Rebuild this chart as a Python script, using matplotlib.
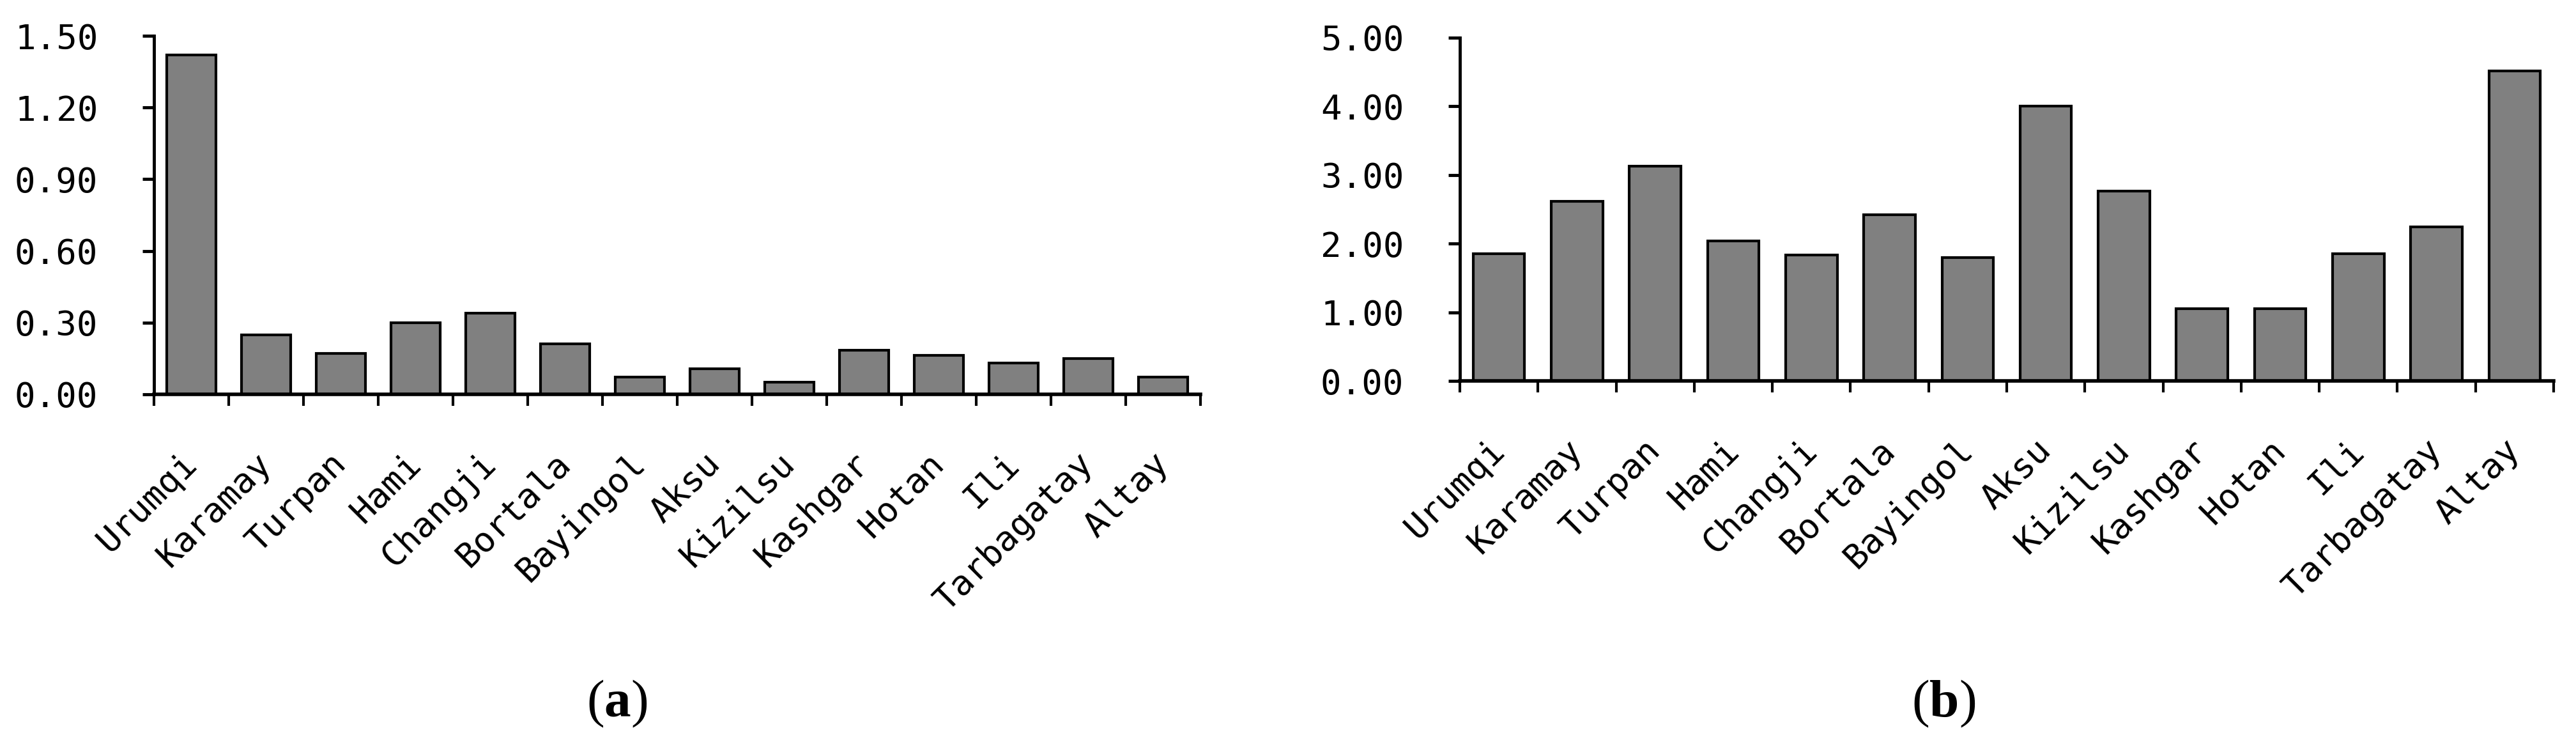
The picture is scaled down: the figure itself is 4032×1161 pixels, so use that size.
import numpy as np
import matplotlib.pyplot as plt
from matplotlib.ticker import FormatStrFormatter, FixedLocator

regions = ["Urumqi", "Karamay", "Turpan", "Hami", "Changji", "Bortala", "Bayingol",
           "Aksu", "Kizilsu", "Kashgar", "Hotan", "Ili", "Tarbagatay", "Altay"]
values_a = [1.42, 0.25, 0.17, 0.30, 0.34, 0.21, 0.073, 0.107, 0.052, 0.184, 0.163, 0.13, 0.151, 0.073]
values_b = [1.85, 2.62, 3.13, 2.04, 1.83, 2.42, 1.80, 4.00, 2.77, 1.05, 1.05, 1.85, 2.24, 4.52]

plt.rcParams["font.family"] = "DejaVu Sans Mono"
plt.rcParams["mathtext.fontset"] = "custom"
plt.rcParams["mathtext.rm"] = "Liberation Serif"
plt.rcParams["mathtext.bf"] = "Liberation Serif:bold"

fig = plt.figure(figsize=(40.32, 11.61), dpi=100)
ax_a = fig.add_axes([241 / 4032, 544 / 1161, 1638 / 4032, 561 / 1161])
ax_b = fig.add_axes([2285 / 4032, 565 / 1161, 1712 / 4032, 537 / 1161])


def draw_panel(ax, vals, ymax, step):
    x = np.arange(len(regions))
    ax.bar(x, vals, width=0.66, color="#808080", edgecolor="black", linewidth=3, zorder=2)
    ax.set_xlim(-0.5, len(regions) - 0.5)
    ax.set_ylim(0, ymax)
    ax.set_yticks(np.arange(0, ymax + step / 2, step))
    ax.yaxis.set_major_formatter(FormatStrFormatter("%.2f"))
    ax.set_xticks(x)
    ax.set_xticklabels(regions, rotation=45, ha="right", va="center", rotation_mode="anchor")
    # category boundaries get the small downward ticks
    ax.xaxis.set_minor_locator(FixedLocator(np.arange(-0.5, len(regions), 1.0)))
    ax.tick_params(axis="x", which="major", length=0, pad=72, labelsize=39)
    ax.tick_params(axis="x", which="minor", length=13, width=3, direction="out")
    ax.tick_params(axis="y", length=13, width=3.5, pad=50, labelsize=39)
    for s in ["top", "right"]:
        ax.spines[s].set_visible(False)
    ax.spines["left"].set_linewidth(3.5)
    ax.spines["bottom"].set_linewidth(4)
    ax.spines["bottom"].set_zorder(3)


draw_panel(ax_a, values_a, 1.5, 0.3)
draw_panel(ax_b, values_b, 5.0, 1.0)

fig.text(966 / 4032, 1 - 1101 / 1161, r"($\mathbf{a}$)", ha="center", va="center",
         fontsize=60, family="Liberation Serif")
fig.text(3042 / 4032, 1 - 1101 / 1161, r"($\mathbf{b}$)", ha="center", va="center",
         fontsize=60, family="Liberation Serif")

fig.savefig("out.png", dpi=100)
